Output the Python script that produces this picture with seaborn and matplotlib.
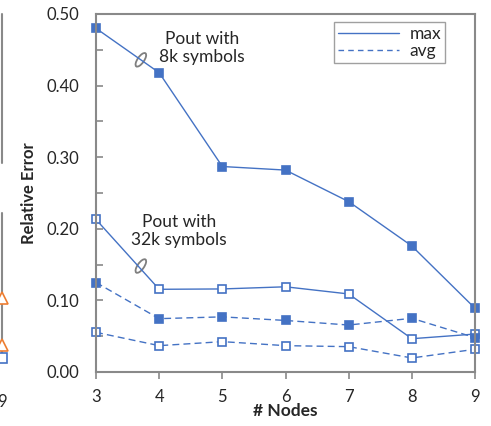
import matplotlib
matplotlib.use("Agg")
import matplotlib.pyplot as plt
import matplotlib.transforms as mtransforms
from matplotlib.patches import Ellipse
from matplotlib.lines import Line2D
import seaborn as sns

sns.set_theme(style="white")
plt.rcParams["font.family"] = ["Lato", "DejaVu Sans"]

nodes = [3, 4, 5, 6, 7, 8, 9]
max_8k = [0.480, 0.418, 0.287, 0.282, 0.238, 0.176, 0.089]
avg_8k = [0.125, 0.0745, 0.077, 0.072, 0.0656, 0.075, 0.048]
max_32k = [0.213, 0.1155, 0.116, 0.119, 0.109, 0.0465, 0.053]
avg_32k = [0.0554, 0.0368, 0.0424, 0.0368, 0.0354, 0.0196, 0.0317]

# bits of the neighbouring (cropped) chart at the left edge
left_x = [9, 9]
left_tri = [0.103, 0.038]
left_sq = [0.020]

blue = "#4472C4"
orange = "#ED7D31"
grey = "#898989"

W, H = 491, 426
fig = plt.figure(figsize=(W / 100, H / 100), dpi=100)
ax = fig.add_axes([96 / W, 1 - 372 / H, (475 - 96) / W, (372 - 14) / H])

fs = 12
fs_txt = 12.5

# neighbour chart remnant
axl = fig.add_axes([-0.5, 1 - 372 / H, 0.5 + 1.5 / W, (372 - 14) / H])
axl.set_xlim(3, 9)
axl.set_ylim(0, 0.5)
for s in axl.spines.values():
    s.set_visible(False)
axl.axvline(9, ymin=(372 - 362) / 358, ymax=(372 - 213) / 358, color=grey, lw=1.5, clip_on=False)
axl.axvline(9, ymin=(372 - 163) / 358, ymax=1, color=grey, lw=1.5, clip_on=False)
axl.plot(left_x, left_tri, ls="none", marker="^", ms=8, mfc="white", mec=orange, mew=1.2, clip_on=False)
axl.plot([9], left_sq, ls="none", marker="s", ms=6.5, mfc="white", mec=blue, mew=1.2, clip_on=False)
axl.set_xticks([9])
axl.set_xticklabels(["9"], fontsize=fs)
axl.set_yticks([])
axl.tick_params(axis="x", length=0, pad=16)

line_kw = dict(color=blue, lw=1.0, marker="s", markersize=6.3, markeredgewidth=1.2,
               markeredgecolor=blue, clip_on=False)
sns.lineplot(x=nodes, y=max_8k, ax=ax, markerfacecolor=blue, **line_kw)
sns.lineplot(x=nodes, y=max_32k, ax=ax, markerfacecolor="white", **line_kw)
sns.lineplot(x=nodes, y=avg_8k, ax=ax, markerfacecolor=blue, linestyle=(0, (5, 3)), **line_kw)
sns.lineplot(x=nodes, y=avg_32k, ax=ax, markerfacecolor="white", linestyle=(0, (5, 3)), **line_kw)

ax.set_xlim(3, 9)
ax.set_ylim(0, 0.5)
ax.set_xticks(nodes)
ax.set_xticklabels([str(n) for n in nodes], fontsize=fs)
ax.set_yticks([0, 0.1, 0.2, 0.3, 0.4, 0.5])
ax.set_yticklabels(["0.00", "0.10", "0.20", "0.30", "0.40", "0.50"], fontsize=fs)
ax.set_yticks([0.05, 0.15, 0.25, 0.35, 0.45], minor=True)
for s in ax.spines.values():
    s.set_color(grey)
    s.set_linewidth(1.5)
ax.tick_params(axis="y", which="both", direction="in", length=5, width=1.2, color=grey, pad=12, left=True)
ax.tick_params(axis="x", direction="out", length=5, width=1.2, color=grey, pad=7, bottom=True)

ax.set_ylabel("Relative Error", fontsize=fs, fontweight="bold", labelpad=7)
ax.set_xlabel("# Nodes", fontsize=fs_txt, fontweight="bold", labelpad=-1)

ax.text(4.68, 0.452, "Pout with\n8k symbols", ha="center", va="center", fontsize=fs_txt, linespacing=1.15)
ax.text(4.31, 0.197, "Pout with\n32k symbols", ha="center", va="center", fontsize=fs_txt, linespacing=1.15)
for ex, ey in [(3.71, 0.436), (3.71, 0.148)]:
    tr = fig.dpi_scale_trans + mtransforms.ScaledTranslation(ex, ey, ax.transData)
    ax.add_patch(Ellipse((0, 0), 0.065, 0.16, angle=-35, transform=tr,
                         fill=False, edgecolor="#7f7f7f", lw=1.3))

handles = [Line2D([], [], color=blue, lw=1.0),
           Line2D([], [], color=blue, lw=1.0, linestyle=(0, (4, 3)))]
leg = ax.legend(handles, ["max", "avg"], loc="upper right", bbox_to_anchor=(0.922, 0.978),
                fontsize=fs_txt, frameon=True, fancybox=False, handlelength=3.5,
                borderpad=0.25, labelspacing=0.05, handletextpad=0.6, borderaxespad=0)
leg.get_frame().set_edgecolor(grey)
leg.get_frame().set_linewidth(1.0)

fig.savefig("out.png", dpi=100)
